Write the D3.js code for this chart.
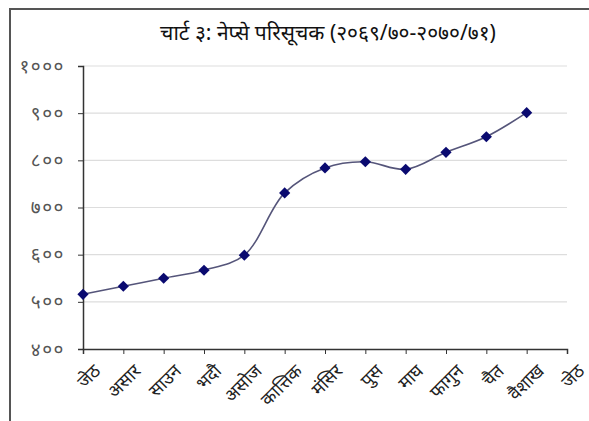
<!DOCTYPE html>
<html>
<head>
<meta charset="utf-8">
<script src="https://cdn.jsdelivr.net/npm/d3@7"></script>
<style>
  body { margin: 0; background: #fff; }
  text { font-family: "Noto Sans", "DejaVu Sans", sans-serif; }
</style>
</head>
<body>
<div id="chart"></div>
<script>
// months (last one has no value)
var months = ["जेठ", "असार", "साउन", "भदौ", "असोज", "कात्तिक", "मंसिर", "पुस", "माघ", "फागुन", "चैत", "वैशाख", "जेठ"]
var nepse = [516, 533, 550, 567, 599, 731, 784, 797, 781, 817, 850, 901]
var yTicks = [400, 500, 600, 700, 800, 900, 1000]
var yTickLabels = ["४००", "५००", "६००", "७००", "८००", "९००", "१०००"]
var title = "चार्ट ३: नेप्से परिसूचक (२०६९/७०-२०७०/७१)"

var W = 589, H = 421
var margin = { top: 66, right: 22, bottom: 72, left: 83 },
    width = W - margin.left - margin.right,
    height = H - margin.top - margin.bottom

var svg = d3.select("#chart").append("svg")
    .attr("width", W)
    .attr("height", H)

// outer frame (left + top only visible)
svg.append("path")
    .attr("d", "M10," + H + "V9H" + W)
    .attr("fill", "none")
    .attr("stroke", "#555")
    .attr("stroke-width", 2)

svg.append("text")
    .attr("x", 328)
    .attr("y", 40)
    .attr("text-anchor", "middle")
    .attr("font-size", 21)
    .attr("fill", "#111")
    .text(title)

var g = svg.append("g")
    .attr("transform", "translate(" + margin.left + "," + margin.top + ")")

var x = d3.scalePoint()
    .domain(d3.range(months.length))
    .range([0, width])

var y = d3.scaleLinear()
    .domain([400, 1000])
    .range([height, 0])

// gridlines
g.selectAll(".grid")
    .data(yTicks.slice(1))
    .enter().append("line")
    .attr("x1", 0).attr("x2", width)
    .attr("y1", d => y(d)).attr("y2", d => y(d))
    .attr("stroke", "#ddd")
    .attr("stroke-width", 1.2)

var yAxis = g.append("g")
    .call(d3.axisLeft(y).tickValues(yTicks)
        .tickSize(5).tickPadding(13)
        .tickFormat((d, i) => yTickLabels[i]))
yAxis.select(".domain").attr("stroke", "#333").attr("stroke-width", 1.5)
yAxis.selectAll(".tick line").attr("stroke", "#333")
yAxis.selectAll("text").attr("font-size", 19).attr("fill", "#555")
    .attr("letter-spacing", 1.5)

var xAxis = g.append("g")
    .attr("transform", "translate(0," + height + ")")
    .call(d3.axisBottom(x).tickSize(5).tickSizeOuter(5)
        .tickFormat(i => months[i]))
xAxis.select(".domain").attr("stroke", "#333").attr("stroke-width", 1.5)
xAxis.selectAll(".tick line").attr("stroke", "#333")
xAxis.selectAll("text")
    .attr("font-size", 18)
    .attr("fill", "#222")
    .attr("text-anchor", "end")
    .attr("dy", "0.35em")
    .attr("transform", "translate(8,13) rotate(-45)")

var line = d3.line()
    .x((d, i) => x(i))
    .y(d => y(d))
    .curve(d3.curveCatmullRom.alpha(0.5))

g.append("path")
    .datum(nepse)
    .attr("d", line)
    .attr("fill", "none")
    .attr("stroke", "#55557a")
    .attr("stroke-width", 1.6)

g.selectAll(".pt")
    .data(nepse)
    .enter().append("path")
    .attr("d", d3.symbol().type(d3.symbolDiamond2).size(80))
    .attr("transform", (d, i) => "translate(" + x(i) + "," + y(d) + ")")
    .attr("fill", "#0a0a70")
</script>
</body>
</html>
